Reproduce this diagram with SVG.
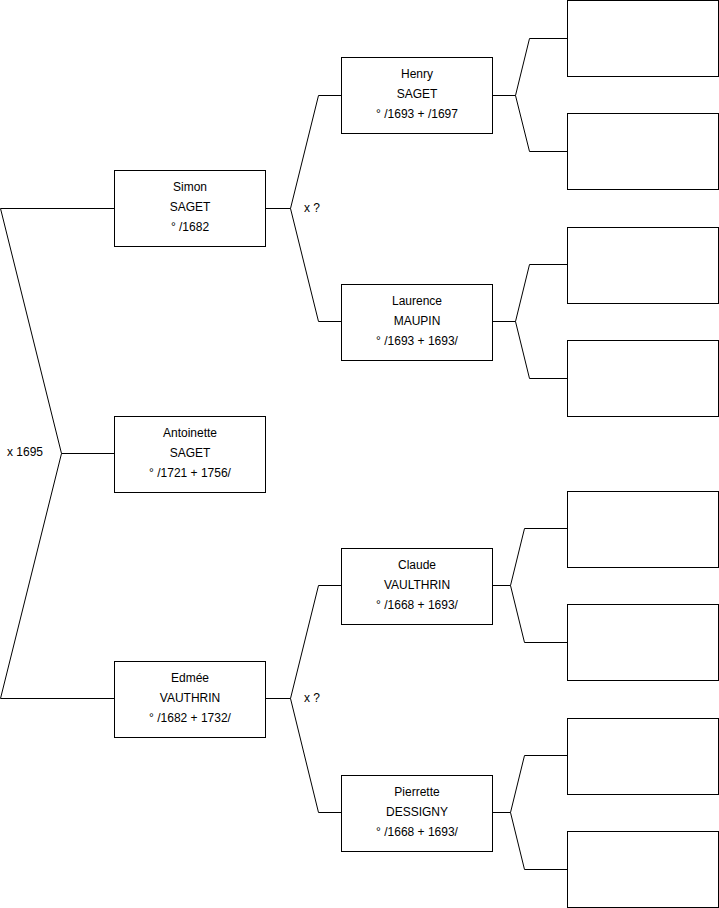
<svg xmlns="http://www.w3.org/2000/svg" width="719" height="908" viewBox="0 0 719 908">
<style>
.box{fill:#fff;stroke:#000;stroke-width:1}
.ln{fill:none;stroke:#000;stroke-width:1}
text{font-family:"Liberation Sans",Arial,sans-serif;font-size:12px;fill:#000}
.c{text-anchor:middle}
</style>
<rect width="719" height="908" fill="#fff"/>
<g id="connectors">
<path class="ln" d="M0.5,208.5 H114.5 M0.5,208.5 L61.5,453.5 L0.5,698.5 M61.5,453.5 H114.5 M0.5,698.5 H114.5"/>
<path class="ln" d="M265.5,208.5 H290.5 L318.5,95.5 H341.5 M290.5,208.5 L318.5,321.5 H341.5"/>
<path class="ln" d="M265.5,698.5 H290.5 L318.5,585.5 H341.5 M290.5,698.5 L318.5,812.5 H341.5"/>
<path class="ln" d="M492.5,95.5 H515.5 L529.5,38.5 H567.5 M515.5,95.5 L529.5,151.5 H567.5"/>
<path class="ln" d="M492.5,321.5 H515.5 L529.5,264.5 H567.5 M515.5,321.5 L529.5,378.5 H567.5"/>
<path class="ln" d="M492.5,585.5 H510.5 L524.5,528.5 H567.5 M510.5,585.5 L524.5,642.5 H567.5"/>
<path class="ln" d="M492.5,812.5 H510.5 L524.5,755.5 H567.5 M510.5,812.5 L524.5,869.5 H567.5"/>
<text x="7" y="456">x 1695</text>
<text x="304" y="212">x ?</text>
<text x="304" y="702">x ?</text>
</g>
<g id="simon"><rect class="box" x="114.5" y="170.5" width="151" height="76"/><text class="c" x="190" y="191">Simon</text><text class="c" x="190" y="211">SAGET</text><text class="c" x="190" y="231">° /1682</text></g>
<g id="antoinette"><rect class="box" x="114.5" y="416.5" width="151" height="76"/><text class="c" x="190" y="437">Antoinette</text><text class="c" x="190" y="457">SAGET</text><text class="c" x="190" y="477">° /1721 + 1756/</text></g>
<g id="edmee"><rect class="box" x="114.5" y="661.5" width="151" height="76"/><text class="c" x="190" y="682">Edmée</text><text class="c" x="190" y="702">VAUTHRIN</text><text class="c" x="190" y="722">° /1682 + 1732/</text></g>
<g id="henry"><rect class="box" x="341.5" y="57.5" width="151" height="76"/><text class="c" x="417" y="78">Henry</text><text class="c" x="417" y="98">SAGET</text><text class="c" x="417" y="118">° /1693 + /1697</text></g>
<g id="laurence"><rect class="box" x="341.5" y="284.5" width="151" height="76"/><text class="c" x="417" y="305">Laurence</text><text class="c" x="417" y="325">MAUPIN</text><text class="c" x="417" y="345">° /1693 + 1693/</text></g>
<g id="claude"><rect class="box" x="341.5" y="548.5" width="151" height="76"/><text class="c" x="417" y="569">Claude</text><text class="c" x="417" y="589">VAULTHRIN</text><text class="c" x="417" y="609">° /1668 + 1693/</text></g>
<g id="pierrette"><rect class="box" x="341.5" y="775.5" width="151" height="76"/><text class="c" x="417" y="796">Pierrette</text><text class="c" x="417" y="816">DESSIGNY</text><text class="c" x="417" y="836">° /1668 + 1693/</text></g>
<g id="g3a"><rect class="box" x="567.5" y="0.5" width="151" height="76"/></g>
<g id="g3b"><rect class="box" x="567.5" y="113.5" width="151" height="76"/></g>
<g id="g3c"><rect class="box" x="567.5" y="227.5" width="151" height="76"/></g>
<g id="g3d"><rect class="box" x="567.5" y="340.5" width="151" height="76"/></g>
<g id="g3e"><rect class="box" x="567.5" y="491.5" width="151" height="76"/></g>
<g id="g3f"><rect class="box" x="567.5" y="604.5" width="151" height="76"/></g>
<g id="g3g"><rect class="box" x="567.5" y="718.5" width="151" height="76"/></g>
<g id="g3h"><rect class="box" x="567.5" y="831.5" width="151" height="76"/></g>
</svg>
